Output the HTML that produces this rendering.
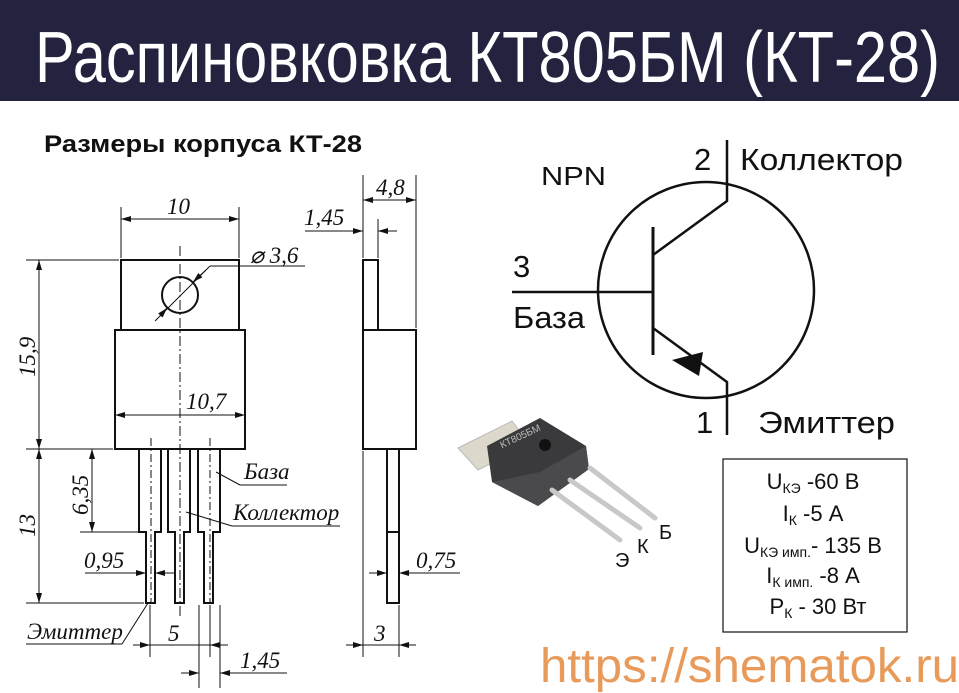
<!DOCTYPE html>
<html><head><meta charset="utf-8"><style>
html,body{margin:0;padding:0;background:#fff;width:959px;height:693px;overflow:hidden}
svg{display:block}
.dim{font-family:"Liberation Serif",serif;font-style:italic;font-size:23px;fill:#111}
.sans{font-family:"Liberation Sans",sans-serif;fill:#111}
</style></head><body>
<svg width="959" height="693" viewBox="0 0 959 693" xmlns="http://www.w3.org/2000/svg">
<defs>
<marker id="a" viewBox="0 0 10 6" refX="10" refY="3" markerWidth="11" markerHeight="6" markerUnits="userSpaceOnUse" orient="auto"><path d="M0,0L10,3L0,6z" fill="#111"/></marker>
</defs>
<rect x="0" y="0" width="959" height="101" fill="#232340"/>
<text x="35" y="82" fill="#fff" font-family="Liberation Sans, sans-serif" font-size="72" textLength="905" lengthAdjust="spacingAndGlyphs">Распиновковка КТ805БМ (КТ-28)</text>
<text x="44" y="152" font-family="Liberation Sans, sans-serif" font-weight="bold" font-size="24" textLength="318" lengthAdjust="spacingAndGlyphs" fill="#111">Размеры корпуса КТ-28</text>

<g stroke="#111" fill="none" stroke-width="1">
<rect x="121" y="260" width="118" height="70" stroke-width="2"/>
<rect x="115" y="330" width="130" height="119" stroke-width="2"/>
<circle cx="180" cy="295" r="18" stroke-width="2"/>
<line x1="180" y1="246" x2="180" y2="617" stroke-dasharray="10,3,2,3"/>
<path d="M139,449V532H146V603H155V532H161V449" stroke-width="2"/>
<path d="M168,449V532H175V603H184V532H190V449" stroke-width="2"/>
<path d="M198,449V532H204V603H213V532H220V449" stroke-width="2"/>
<line x1="151" y1="438" x2="151" y2="603" stroke-dasharray="8,3,2,3"/>
<line x1="210" y1="438" x2="210" y2="603" stroke-dasharray="8,3,2,3"/>
<line x1="121" y1="258" x2="121" y2="207"/><line x1="239" y1="258" x2="239" y2="207"/>
<line x1="150" y1="219" x2="121" y2="219" marker-end="url(#a)"/><line x1="150" y1="219" x2="239" y2="219" marker-end="url(#a)"/>
<line x1="155" y1="321" x2="210" y2="266"/><line x1="210" y1="266" x2="305" y2="266"/>
<line x1="160" y1="316" x2="167" y2="308" marker-end="url(#a)"/><line x1="206" y1="270" x2="193" y2="282" marker-end="url(#a)"/>
<line x1="26" y1="260" x2="119" y2="260"/><line x1="26" y1="449" x2="113" y2="449"/><line x1="26" y1="603" x2="144" y2="603"/>
<line x1="39" y1="350" x2="39" y2="260" marker-end="url(#a)"/><line x1="39" y1="350" x2="39" y2="449" marker-end="url(#a)"/>
<line x1="39" y1="520" x2="39" y2="449" marker-end="url(#a)"/><line x1="39" y1="520" x2="39" y2="603" marker-end="url(#a)"/>
<line x1="80" y1="532" x2="139" y2="532"/>
<line x1="92" y1="490" x2="92" y2="449" marker-end="url(#a)"/><line x1="92" y1="490" x2="92" y2="532" marker-end="url(#a)"/>
<line x1="180" y1="415" x2="115" y2="415" marker-end="url(#a)"/><line x1="180" y1="415" x2="245" y2="415" marker-end="url(#a)"/>
<line x1="85" y1="573" x2="146" y2="573" marker-end="url(#a)"/><line x1="175" y1="573" x2="155" y2="573" marker-end="url(#a)"/>
<line x1="150" y1="605" x2="150" y2="657"/><line x1="210" y1="605" x2="210" y2="657"/>
<line x1="133" y1="645" x2="150" y2="645" marker-end="url(#a)"/><line x1="150" y1="645" x2="228" y2="645"/><line x1="228" y1="645" x2="210" y2="645" marker-end="url(#a)"/>
<line x1="199" y1="605" x2="199" y2="688"/><line x1="220" y1="605" x2="220" y2="688"/>
<line x1="181" y1="673" x2="199" y2="673" marker-end="url(#a)"/><line x1="287" y1="673" x2="220" y2="673" marker-end="url(#a)"/>
<line x1="26" y1="644" x2="122" y2="644"/><line x1="122" y1="644" x2="148" y2="603"/>
<line x1="216" y1="472" x2="240" y2="485"/><line x1="240" y1="485" x2="287" y2="485"/>
<line x1="186" y1="512" x2="232" y2="526"/><line x1="232" y1="526" x2="340" y2="526"/>
<rect x="363" y="260" width="15" height="70" stroke-width="2"/>
<rect x="363" y="330" width="53" height="119" stroke-width="2"/>
<rect x="387" y="449" width="12" height="154" stroke-width="2"/>
<line x1="387" y1="532" x2="399" y2="532" stroke-width="2"/>
<line x1="363" y1="258" x2="363" y2="175"/><line x1="416" y1="328" x2="416" y2="175"/><line x1="378" y1="258" x2="378" y2="219"/>
<line x1="390" y1="200" x2="363" y2="200" marker-end="url(#a)"/><line x1="390" y1="200" x2="416" y2="200" marker-end="url(#a)"/>
<line x1="305" y1="231" x2="363" y2="231" marker-end="url(#a)"/><line x1="397" y1="231" x2="378" y2="231" marker-end="url(#a)"/>
<line x1="369" y1="573" x2="387" y2="573" marker-end="url(#a)"/><line x1="460" y1="573" x2="399" y2="573" marker-end="url(#a)"/>
<line x1="363" y1="451" x2="363" y2="657"/><line x1="399" y1="605" x2="399" y2="657"/>
<line x1="346" y1="645" x2="363" y2="645" marker-end="url(#a)"/><line x1="363" y1="645" x2="399" y2="645"/><line x1="416" y1="645" x2="399" y2="645" marker-end="url(#a)"/>
</g>
<text class="dim" x="167" y="214">10</text>
<text class="dim" x="250" y="263">⌀ 3,6</text>
<text class="dim" x="186" y="409">10,7</text>
<text class="dim" transform="translate(35,377) rotate(-90)">15,9</text>
<text class="dim" transform="translate(35,537) rotate(-90)">13</text>
<text class="dim" transform="translate(88,515) rotate(-90)">6,35</text>
<text class="dim" x="84" y="568">0,95</text>
<text class="dim" x="168" y="641">5</text>
<text class="dim" x="240" y="668">1,45</text>
<text class="dim" x="27" y="639" font-size="20">Эмиттер</text>
<text class="dim" x="244" y="479" font-size="20">База</text>
<text class="dim" x="233" y="520" font-size="20">Коллектор</text>
<text class="dim" x="376" y="195">4,8</text>
<text class="dim" x="304" y="225">1,45</text>
<text class="dim" x="416" y="568">0,75</text>
<text class="dim" x="374" y="641">3</text>

<g stroke="#111" fill="none" stroke-width="2.5">
<circle cx="706" cy="290" r="108"/>
<polyline points="727,140 727,201 653,255"/>
<line x1="653" y1="227" x2="653" y2="355" stroke-width="3"/>
<line x1="512" y1="292" x2="653" y2="292"/>
<polyline points="653,328 727,382 727,435"/>
</g>
<path d="M672,360L703,352L699,376z" fill="#111"/>
<text class="sans" x="541" y="185" font-size="26" textLength="65" lengthAdjust="spacingAndGlyphs">NPN</text>
<text class="sans" x="694" y="170" font-size="31">2</text>
<text class="sans" x="740" y="170" font-size="31" textLength="163" lengthAdjust="spacingAndGlyphs">Коллектор</text>
<text class="sans" x="513" y="277" font-size="31">3</text>
<text class="sans" x="513" y="328" font-size="31" textLength="72" lengthAdjust="spacingAndGlyphs">База</text>
<text class="sans" x="696" y="433" font-size="31">1</text>
<text class="sans" x="758" y="433" font-size="31" textLength="137" lengthAdjust="spacingAndGlyphs">Эмиттер</text>

<polygon points="458,448 512,421 530,444 478,470" fill="#ddd8cc" stroke="#bbb"/>
<polygon points="487,446 540,418 586,446 589,469 538,506 492,482" fill="#3a3a3c"/>
<polygon points="492,482 538,506 589,469 586,446 540,472" fill="#4a4a4c"/>
<circle cx="545" cy="445" r="6" fill="#111"/>
<text x="500" y="440" fill="#bbb" font-family="Liberation Sans, sans-serif" font-size="10" transform="rotate(-25 520 440)">КТ805БМ</text>
<g stroke="#c8c8c8" stroke-width="5" stroke-linecap="round">
<line x1="552" y1="490" x2="620" y2="540"/><line x1="570" y1="480" x2="640" y2="528"/><line x1="590" y1="468" x2="655" y2="518"/>
</g>
<text class="sans" x="659" y="539" font-size="20">Б</text>
<text class="sans" x="637" y="553" font-size="20">К</text>
<text class="sans" x="615" y="567" font-size="20">Э</text>

<rect x="723" y="459" width="184" height="173" fill="none" stroke="#111" stroke-width="1.2"/>
<g class="sans" font-size="22" text-anchor="middle" font-family="Liberation Sans, sans-serif">
<text x="813" y="489">U<tspan font-size="14" dy="4">КЭ</tspan><tspan dy="-4"> -60 В</tspan></text>
<text x="813" y="521">I<tspan font-size="14" dy="4">К</tspan><tspan dy="-4"> -5 А</tspan></text>
<text x="813" y="553">U<tspan font-size="14" dy="4">КЭ имп.</tspan><tspan dy="-4">- 135 В</tspan></text>
<text x="813" y="583">I<tspan font-size="14" dy="4">К имп.</tspan><tspan dy="-4"> -8 А</tspan></text>
<text x="818" y="614">P<tspan font-size="14" dy="4">К</tspan><tspan dy="-4"> - 30 Вт</tspan></text>
</g>
<text x="540" y="682" fill="#e89a5a" font-family="Liberation Sans, sans-serif" font-size="48" textLength="419" lengthAdjust="spacingAndGlyphs">https://shematok.ru</text>
</svg>
</body></html>
